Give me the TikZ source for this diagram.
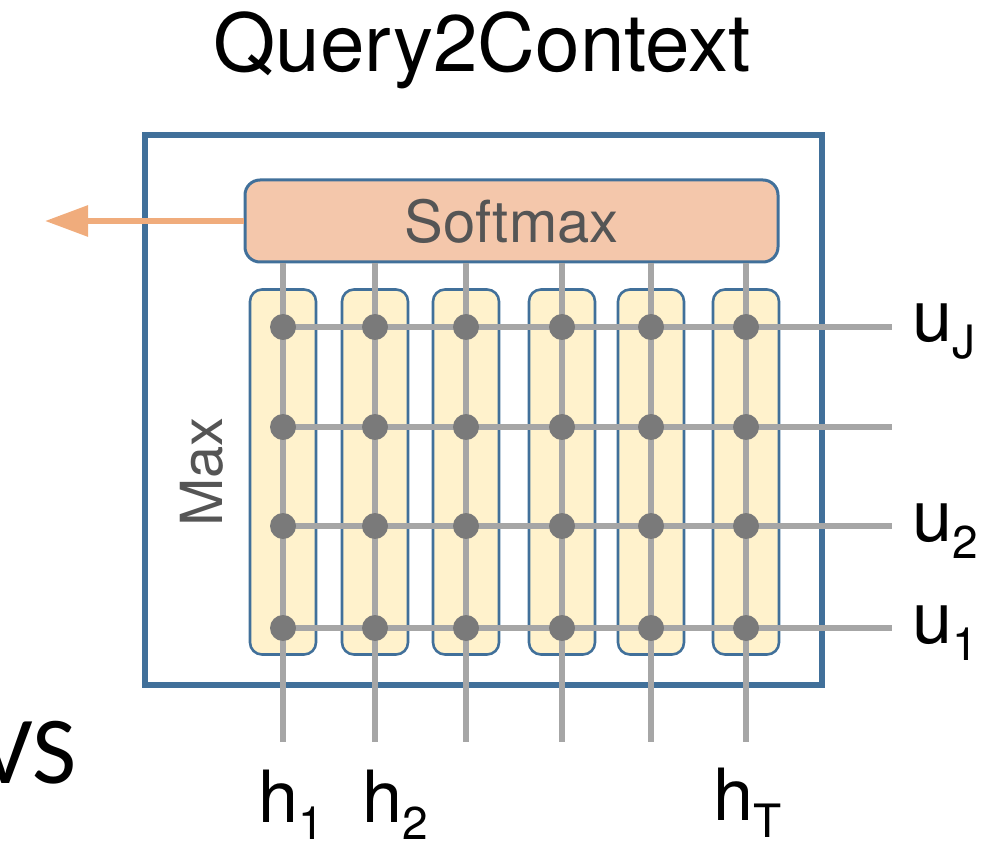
\documentclass[tikz,border=0pt]{standalone}
\usepackage{fontspec}
\setmainfont{TeX Gyre Heros}
\newfontfamily\slidefont{Carlito}
\usetikzlibrary{arrows.meta,positioning}

\definecolor{boxblue}{RGB}{65,112,154}
\definecolor{softfill}{RGB}{244,199,171}
\definecolor{colfill}{RGB}{255,242,204}
\definecolor{wiregray}{RGB}{166,166,166}
\definecolor{dotgray}{RGB}{122,122,122}
\definecolor{outorange}{RGB}{240,172,124}
\definecolor{textgray}{RGB}{85,85,85}

\newcommand{\lowsub}[1]{\raisebox{-8.5pt}{\fontsize{23}{23}\selectfont #1}}

\tikzset{
	headline/.style = {inner sep=0pt, font=\fontsize{40}{40}\selectfont},
	frame/.style = {draw=boxblue, line width=3pt, minimum width=338.5pt, minimum height=275pt},
	softbox/.style = {draw=boxblue, line width=1.5pt, fill=softfill, rounded corners=7.5pt,
		minimum width=266.5pt, minimum height=41pt, text=textgray, font=\fontsize{29}{29}\selectfont},
	colbox/.style = {draw=boxblue, line width=1.3pt, fill=colfill, rounded corners=6pt,
		minimum width=33pt, minimum height=182.5pt},
	wire/.style = {draw=wiregray, line width=3pt},
	dot/.style = {circle, fill=dotgray, inner sep=0pt, minimum size=13pt},
	outarrow/.style = {draw=outorange, line width=3pt, -{Triangle[length=21.5pt, width=15pt]}},
	veclabel/.style = {inner sep=0pt, anchor=base west, font=\fontsize{36}{36}\selectfont},
	sidelabel/.style = {inner sep=0pt, text=textgray, font=\fontsize{29}{29}\selectfont}
}

\begin{document}
\begin{tikzpicture}[x=0.5pt, y=-0.5pt]
	\useasboundingbox (0,0) rectangle (996,844);

	\node [headline] (head) at (482,50) {Query2Context};
	\node [frame] (outer) at (483.5,410) {};
	\node [softbox] (soft) at (511.5,221) {Softmax};
	\node [sidelabel, rotate=90] (max) at (202,472) {Max};

	% columns h_1 ... h_T, rows u_1 ... u_J
	\foreach \i/\x in {1/283,2/375,3/466,4/562,5/651,6/746} {
		\node [colbox] (col\i) at (\x,472) {};
		\coordinate (bot\i) at (\x,742);
		\foreach \j/\y in {1/628,2/526,3/427,4/327}
			\coordinate (p\i\j) at (\x,\y);
	}
	\foreach \j/\y in {1/628,2/526,3/427,4/327}
		\coordinate (end\j) at (892,\y);

	\foreach \i in {1,...,6}
		\draw [wire] (col\i |- soft.south) -- (bot\i);
	\foreach \j in {1,...,4}
		\draw [wire] (p1\j) -- (end\j);
	\foreach \i in {1,...,6}
		\foreach \j in {1,...,4}
			\node [dot] (d\i\j) at (p\i\j) {};

	\coordinate (out) at (45,221);
	\draw [outarrow] (soft.west) -- (out);

	\node [veclabel] (uJ) at ([shift={(20,15)}]end4) {u\lowsub{J}};
	\node [veclabel] (u2) at ([shift={(20,15)}]end2) {u\lowsub{2}};
	\node [veclabel] (u1) at ([shift={(20,15)}]end1) {u\lowsub{1}};

	\node [veclabel] (h1) at ([shift={(-25,80)}]bot1) {h\lowsub{1}};
	\node [veclabel] (h2) at ([shift={(-13,80)}]bot2) {h\lowsub{2}};
	\node [veclabel] (hT) at ([shift={(-33,78)}]bot6) {h\lowsub{T}};

	\node [inner sep=0pt, anchor=base east, font=\slidefont\fontsize{48}{48}\selectfont] (vs) at (77,783) {VS};
\end{tikzpicture}
\end{document}
